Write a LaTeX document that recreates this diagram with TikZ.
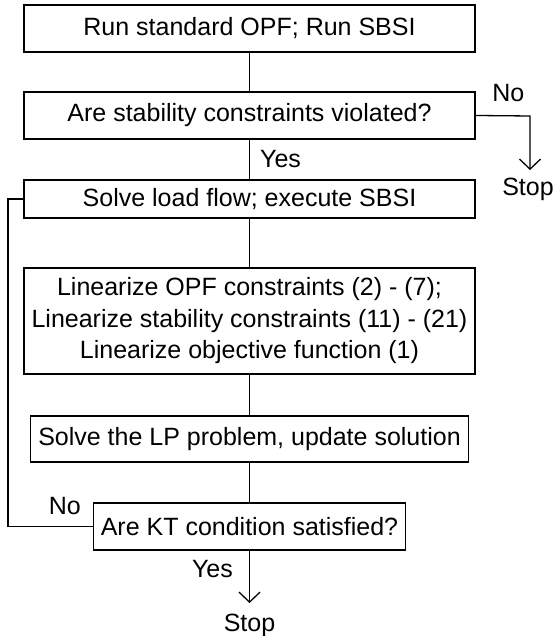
\documentclass[tikz,border=0pt]{standalone}
\usepackage{fontspec}
\setmainfont{Liberation Sans}
\usetikzlibrary{positioning, arrows.meta}

\begin{document}
\begin{tikzpicture}[x=1pt, y=1pt, node distance=87pt, on grid, line width=1.3pt,
        >={Straight Barb[length=10pt, width=21pt]},
        font=\fontsize{25}{31.5}\selectfont,
        box/.style={draw, minimum width=451pt, minimum height=47pt, inner sep=0pt, align=center},
        lbl/.style={inner sep=0pt}]
        \useasboundingbox (0,0) rectangle (556,636);

        \node[box] (b1) at (249.5,607.5) {Run standard OPF; Run SBSI};
        \node[box] (b2) [below=of b1] {Are stability constraints violated?};
        \node[box, minimum height=38pt] (b3) [below=83.5pt of b2] {Solve load flow; execute SBSI};
        \node[box, minimum height=106pt] (b4) [below=122pt of b3] {Linearize OPF constraints (2) - (7);\\Linearize stability constraints (11) - (21)\\Linearize objective function (1)};
        \node[box, minimum width=438pt, minimum height=46pt] (b5) [below=118pt of b4] {Solve the LP problem, update solution};
        \node[box, minimum width=312pt] (b6) [below=87.5pt of b5] {Are KT condition satisfied?};
        \node[lbl] (stop1) at (528,447) {Stop};
        \node[lbl] (stop2) [below=98.5pt of b6] {Stop};
        \coordinate (c1) at (530,520);
        \coordinate (fb) at (8,0);

        \draw (b1) -- (b2);
        \draw (b2) -- node[lbl, right=10pt] {Yes} (b3);
        \draw (b3) -- (b4);
        \draw (b4) -- (b5);
        \draw (b5) -- (b6);
        \draw[->, shorten >=7pt] (b2.east) -- node[lbl, pos=0.6, above=13pt] {No} (c1) -- (c1 |- stop1.north);
        \draw[->, shorten >=10pt] (b6) -- node[lbl, pos=0.29, left=16pt] {Yes} (stop2);
        % back to the load flow
        \draw (b6.west) -- node[lbl, pos=0.33, above=11pt] {No} (b6.west -| fb) |- (b3.west);
\end{tikzpicture}
\end{document}
